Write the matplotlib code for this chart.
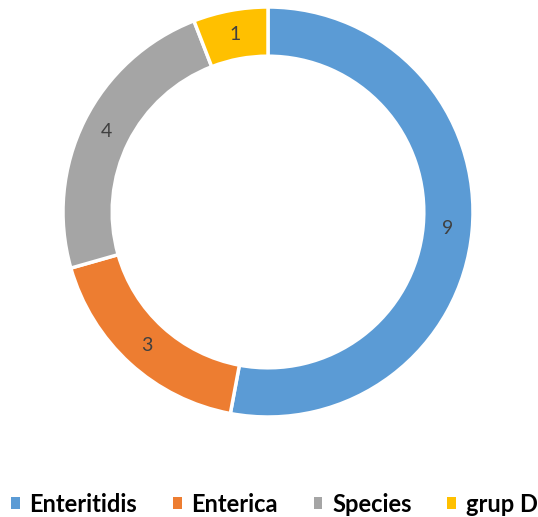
import matplotlib.pyplot as plt
from matplotlib.patches import Patch

# Data
labels = ['Enteritidis', 'Enterica', 'Species', 'grup D']
values = [9, 3, 4, 1]
colors = ['#5B9BD5', '#ED7D31', '#A5A5A5', '#FFC000']

W, H = 538, 517
fig = plt.figure(figsize=(W / 100, H / 100), dpi=100)

# donut centre / radius in pixels
cx, cy, r = 268, 212, 205
ax = fig.add_axes([(cx - r) / W, (H - cy - r) / H, 2 * r / W, 2 * r / H])

width = 0.24
wedges, texts = ax.pie(values, colors=colors, startangle=90, counterclock=False,
                       radius=1.0, labels=[str(v) for v in values],
                       labeldistance=1 - width / 2,
                       wedgeprops=dict(width=width, edgecolor='white', linewidth=2.5),
                       textprops=dict(color='#404040', fontsize=14, family='Lato'))
for t in texts:
    t.set_ha('center')
    t.set_va('center')
ax.set_xlim(-1.0, 1.0)
ax.set_ylim(-1.0, 1.0)
ax.set_aspect('equal')
ax.axis('off')

handles = [Patch(facecolor=c, edgecolor='none') for c in colors]
fig.legend(handles, labels, loc='center', bbox_to_anchor=(0.51, (H - 504) / H),
           ncol=4, frameon=False, handlelength=0.38, handleheight=0.38,
           handletextpad=0.42, columnspacing=1.5, borderpad=0.1,
           prop=dict(family='Lato', weight='bold', size=17))

fig.savefig('out.png', dpi=100)
